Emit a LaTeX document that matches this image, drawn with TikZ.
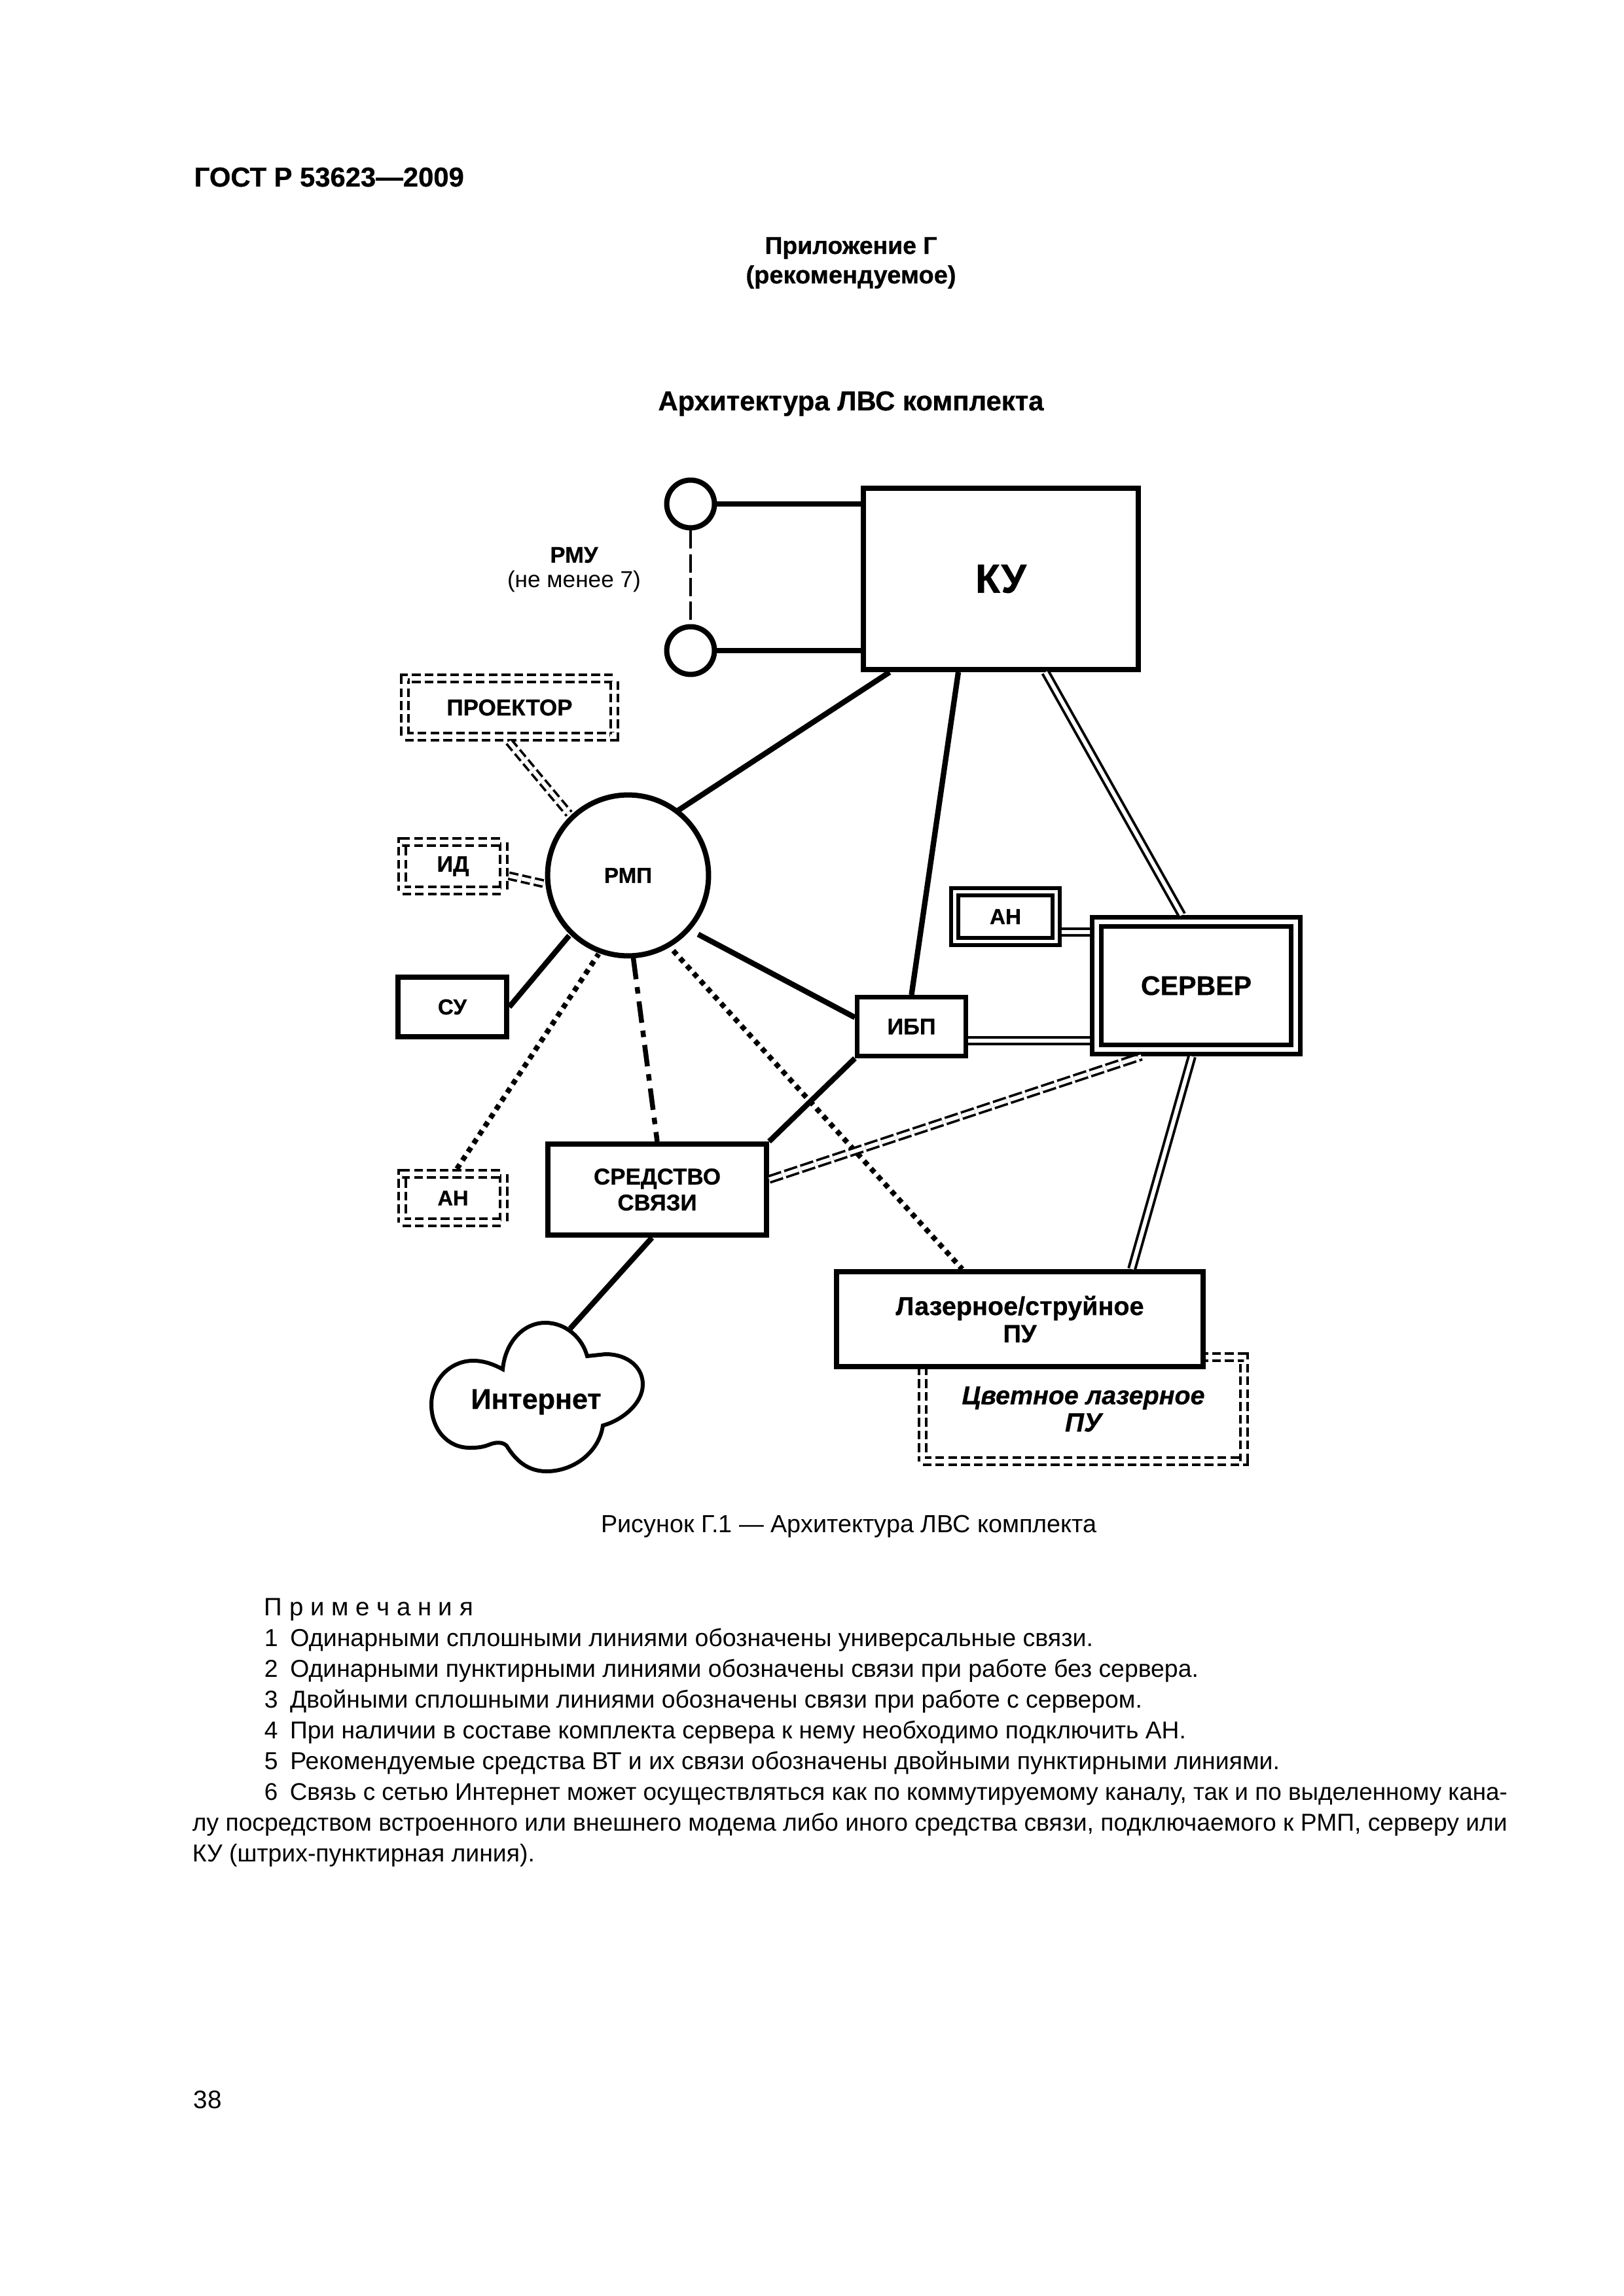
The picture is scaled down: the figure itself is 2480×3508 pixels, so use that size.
\documentclass[tikz,border=0pt]{standalone}
\usepackage{graphicx}
\usepackage{fontspec}
\setmainfont{Liberation Sans}[BoldFeatures={FakeBold=0.7},BoldItalicFeatures={FakeBold=0.7}]
\usetikzlibrary{calc}
\newdimen\pxunit \pxunit=0.24pt
\newcommand{\fitw}[2]{\resizebox{#1\pxunit}{!}{#2}}
\newcommand{\fs}[1]{\fontsize{#1}{#1}\selectfont}
\tikzset{
  sz/.style 2 args={minimum width=#1*0.24pt,minimum height=#2*0.24pt},
  every node/.style={inner sep=0pt},
  pagetext/.style={anchor=base west,font=\fs{10}},
  pagecenter/.style={anchor=base,font=\fs{10}},
  note/.style={anchor=base west,font=\fs{9}},
  boxlabel/.style={font=\fs{9.5},align=center},
  thickbox/.style={draw,line width=1.92pt,fill=white,boxlabel},
  dbox/.style={draw,double,line width=1.4pt,double distance=1.2pt,fill=white,outer sep=2pt,boxlabel},
  dashbox/.style={draw,double,line width=1.05pt,double distance=1.6pt,dash pattern=on 3.2pt off 1.5pt,fill=white,outer sep=1.85pt,boxlabel},
  conn/.style={line width=2pt},
  dotconn/.style={line width=1.92pt,dash pattern=on 1.92pt off 1.8pt},
  dashdot/.style={line width=1.8pt,dash pattern=on 7.9pt off 2.9pt on 2.4pt off 2.9pt},
  twoline/.style={double,line width=.96pt,double distance=1.44pt},
  twodash/.style={double,line width=.9pt,double distance=1.44pt,dash pattern=on 3.36pt off 1.44pt},
  longdouble/.style={twodash,dash pattern=on 5pt off 1.2pt},
  thinlink/.style={line width=.96pt,dash pattern=on 6.7pt off 2pt},
}
\begin{document}
\begin{tikzpicture}[x=0.24pt,y=-0.24pt]
\useasboundingbox (0,0) rectangle (2480,3508);
\fill[white] (0,0) rectangle (2480,3508);

% page texts
\node[pagetext,font=\fs{10}\bfseries] (gost) at (296,285) {\fitw{412}{ГОСТ Р 53623—2009}};
\node[pagecenter,font=\fs{10}\bfseries] (pril) at (1300,388) {\fitw{263}{Приложение Г}};
\node[pagecenter,font=\fs{10}\bfseries] (rek) at (1300,433) {\fitw{321}{(рекомендуемое)}};
\node[pagecenter,font=\fs{10}\bfseries] (arch) at (1300,627) {\fitw{589}{Архитектура ЛВС комплекта}};
\node[pagecenter] (cap) at (1297,2341) {\fitw{757}{Рисунок Г.1 — Архитектура ЛВС комплекта}};
\node[note] (n0) at (403,2468) {\fitw{319}{П р и м е ч а н и я}};
\node[note] (n1) at (403,2515) {\fitw{1266}{1\hspace{.5em}Одинарными сплошными линиями обозначены универсальные связи.}};
\node[note] (n2) at (403,2562) {\fitw{1427}{2\hspace{.5em}Одинарными пунктирными линиями обозначены связи при работе без сервера.}};
\node[note] (n3) at (403,2609) {\fitw{1341}{3\hspace{.5em}Двойными сплошными линиями обозначены связи при работе с сервером.}};
\node[note] (n4) at (403,2656) {\fitw{1408}{4\hspace{.5em}При наличии в составе комплекта сервера к нему необходимо подключить АН.}};
\node[note] (n5) at (403,2703) {\fitw{1551}{5\hspace{.5em}Рекомендуемые средства ВТ и их связи обозначены двойными пунктирными линиями.}};
\node[note] (n6) at (403,2750) {\fitw{1899}{6\hspace{.5em}Связь с сетью Интернет может осуществляться как по коммутируемому каналу, так и по выделенному кана-}};
\node[note] (n7) at (293,2797) {\fitw{2009}{лу посредством встроенного или внешнего модема либо иного средства связи, подключаемого к РМП, серверу или}};
\node[note] (n8) at (293,2844) {\fitw{523}{КУ (штрих-пунктирная линия).}};
\node[pagetext,font=\fs{9}] (pg) at (295,3221) {\fitw{43}{38}};

% nodes
\node[thickbox,sz={420}{277}] (ku) at (1529,884.5) {\fs{16}\bfseries\fitw{78}{КУ}};
\node[draw,circle,line width=1.92pt,fill=white,minimum size=17.5pt] (rmu1) at (1055,770) {};
\node[draw,circle,line width=1.92pt,fill=white,minimum size=17.5pt] (rmu2) at (1055,994) {};
\node[font=\fs{9}\bfseries] (rmulabel) at (877,848) {\fitw{73}{РМУ}};
\node[font=\fs{9}] (rmunote) at (877,888) {\fitw{204}{(не менее 7)}};
\node[dashbox,sz={320}{89},font=\fs{8}\bfseries] (proj) at (778.5,1081) {\fitw{192}{ПРОЕКТОР}};
\node[dashbox,sz={155}{74},font=\fs{8}\bfseries] (id) at (692,1323.5) {\fitw{49}{ИД}};
\node[draw,circle,line width=1.92pt,fill=white,minimum size=59pt,font=\fs{8}\bfseries] (rmp) at (959.5,1337.5) {\fitw{73}{РМП}};
\node[thickbox,sz={166}{91},font=\fs{8}\bfseries] (su) at (691,1538.5) {\fitw{44}{СУ}};
\node[dashbox,sz={155}{74},font=\fs{8}\bfseries] (an1) at (692,1830.5) {\fitw{47}{АН}};
\node[thickbox,sz={334}{139},font=\fs{9.5}\bfseries] (sr) at (1004,1817.5) {\fitw{194}{СРЕДСТВО}\\\fitw{121}{СВЯЗИ}};
\node[thickbox,line width=1.68pt,sz={166}{90},font=\fs{8}\bfseries] (ibp) at (1392.5,1568.5) {\fitw{74}{ИБП}};
\node[dbox,sz={155}{76},font=\fs{8}\bfseries] (an2) at (1536,1400.5) {\fitw{48}{АН}};
\node[dbox,sz={304}{195},line width=1.68pt,double distance=1.68pt,outer sep=2.52pt,font=\fs{10}\bfseries] (server) at (1827.5,1506) {\fitw{169}{СЕРВЕР}};
\node[dashbox,sz={491}{159},font=\fs{10}\bfseries\itshape] (color) at (1655,2153) {\fitw{371}{Цветное лазерное}\\\fitw{56}{ПУ}};
\node[thickbox,sz={560}{145},font=\fs{10}\bfseries] (laser) at (1558,2015.5) {\fitw{379}{Лазерное/струйное}\\\fitw{51}{ПУ}};
\node[font=\fs{11}\bfseries] (inet) at (819,2142) {\fitw{199}{Интернет}};

% cloud
\draw[line width=1.44pt,miter limit=10] (768,2092)
  .. controls (772,2050) and (800,2021) .. (833,2021)
  .. controls (865,2021) and (890,2045) .. (897,2072)
  -- (925,2069)
  .. controls (960,2069) and (982,2090) .. (982,2115)
  .. controls (982,2145) and (950,2170) .. (921,2178)
  .. controls (915,2220) and (875,2248) .. (835,2248)
  .. controls (805,2248) and (787,2230) .. (774,2209)
  .. controls (768,2203) and (758,2203) .. (748,2207)
  .. controls (738,2211) and (730,2212) .. (718,2212)
  .. controls (682,2212) and (659,2182) .. (659,2146)
  .. controls (659,2108) and (688,2079) .. (723,2079)
  .. controls (740,2079) and (755,2085) .. (768,2092) -- cycle;

% connectors
\draw[conn] (rmu1.east) -- (rmu1.east -| ku.west);
\draw[conn] (rmu2.east) -- (rmu2.east -| ku.west);
\draw[thinlink] (rmu1.south) -- (rmu2.north);
\draw[conn] ($(ku.south west)+(44,0)$) -- ($(rmp.center)+(76,-99)$);
\draw[conn] ($(ku.south)+(-65,0)$) -- (ibp.north);
\draw[twoline] ($(ku.south)+(68,0)$) -- ($(server.north)+(-22,0)$);
\draw[twodash] ($(proj.south)+(-1,0)$) -- ($(rmp.center)+(-90,-94)$);
\draw[twodash] ($(id.east)+(0,14.5)$) -- ($(rmp.center)+(-127,13)$);
\draw[conn] (su.east) -- ($(rmp.center)+(-90,92)$);
\draw[dotconn] ($(an1.north)+(6,0)$) -- ($(rmp.center)+(-45,120)$);
\draw[dashdot] ($(rmp.center)+(8,126)$) -- (sr.north);
\draw[dotconn] ($(rmp.center)+(69,115)$) -- ($(laser.north)+(-88,0)$);
\draw[conn] ($(rmp.center)+(107,90)$) -- ($(ibp.west)+(0,-14)$);
\draw[conn] (ibp.south west) -- (sr.north east);
\draw[conn] ($(sr.south)+(-8,0)$) -- ($(inet.center)+(52,-112)$);
\draw[twoline] ($(an2.east)+(0,23.5)$) -- ($(server.west)+(0,-82)$);
\draw[twoline] ($(ibp.east)+(0,21.5)$) -- ($(server.west)+(0,84)$);
\draw[longdouble] ($(sr.east)+(0,-15.5)$) -- ($(server.south)+(-84,0)$);
\draw[twoline] ($(server.south)+(-6.5,0)$) -- ($(laser.north)+(171,0)$);
\end{tikzpicture}
\end{document}
